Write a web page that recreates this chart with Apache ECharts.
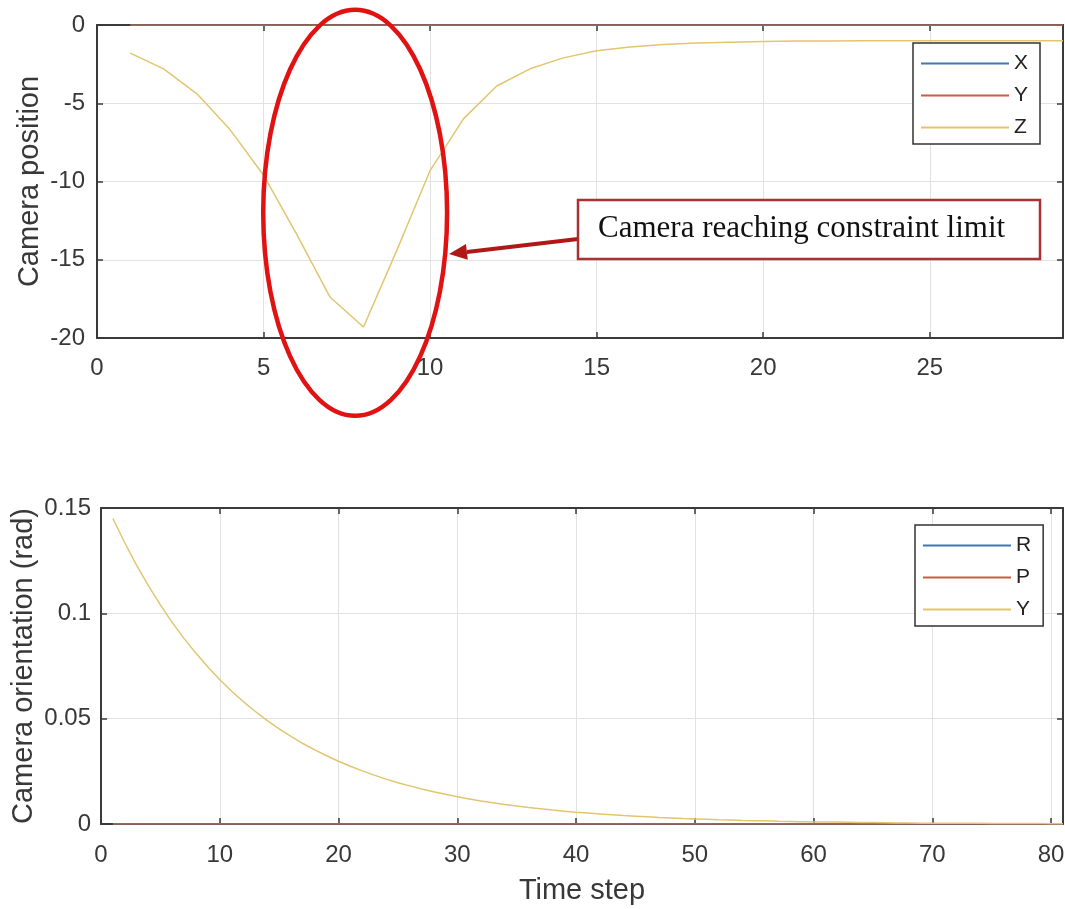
<!DOCTYPE html>
<html>
<head>
<meta charset="utf-8">
<script src="https://cdn.jsdelivr.net/npm/echarts@6/dist/echarts.min.js"></script>
<style>
  html, body { margin: 0; padding: 0; background: #fff; }
  #main { width: 1065px; height: 909px; }
</style>
</head>
<body>
<div id="main"></div>
<script>
// time steps of the position plot and its three series
var stepsTop = [1, 2, 3, 4, 5, 6, 7, 8, 9, 10, 11, 12, 13, 14, 15, 16, 17, 18, 19, 20,
  21, 22, 23, 24, 25, 26, 27, 28, 29];
var posX = [0, 0, 0, 0, 0, 0, 0, 0, 0, 0, 0, 0, 0, 0, 0, 0, 0, 0, 0, 0, 0, 0, 0, 0, 0, 0, 0, 0, 0];
var posY = [0, 0, 0, 0, 0, 0, 0, 0, 0, 0, 0, 0, 0, 0, 0, 0, 0, 0, 0, 0, 0, 0, 0, 0, 0, 0, 0, 0, 0];
var posZ = [-1.8, -2.8, -4.4, -6.7, -9.6, -13.4, -17.4, -19.3, -14.4, -9.3, -6.0, -3.9, -2.8, -2.1,
  -1.65, -1.4, -1.25, -1.15, -1.1, -1.05, -1.03, -1.02, -1.0, -1.0, -1.0, -1.0, -1.0, -1.0, -1.0];

// time steps of the orientation plot and its three series
var stepsBottom = [1, 2, 3, 4, 5, 6, 7, 8, 9, 10, 11, 12, 13, 14, 15, 16, 17, 18, 19, 20,
  21, 22, 23, 24, 25, 26, 27, 28, 29, 30, 31, 32, 33, 34, 35, 36, 37, 38, 39, 40,
  41, 42, 43, 44, 45, 46, 47, 48, 49, 50, 51, 52, 53, 54, 55, 56, 57, 58, 59, 60,
  61, 62, 63, 64, 65, 66, 67, 68, 69, 70, 71, 72, 73, 74, 75, 76, 77, 78, 79, 80, 81];
var oriR = [0, 0, 0, 0, 0, 0, 0, 0, 0, 0, 0, 0, 0, 0, 0, 0, 0, 0, 0, 0,
  0, 0, 0, 0, 0, 0, 0, 0, 0, 0, 0, 0, 0, 0, 0, 0, 0, 0, 0, 0,
  0, 0, 0, 0, 0, 0, 0, 0, 0, 0, 0, 0, 0, 0, 0, 0, 0, 0, 0, 0,
  0, 0, 0, 0, 0, 0, 0, 0, 0, 0, 0, 0, 0, 0, 0, 0, 0, 0, 0, 0, 0];
var oriP = [0, 0, 0, 0, 0, 0, 0, 0, 0, 0, 0, 0, 0, 0, 0, 0, 0, 0, 0, 0,
  0, 0, 0, 0, 0, 0, 0, 0, 0, 0, 0, 0, 0, 0, 0, 0, 0, 0, 0, 0,
  0, 0, 0, 0, 0, 0, 0, 0, 0, 0, 0, 0, 0, 0, 0, 0, 0, 0, 0, 0,
  0, 0, 0, 0, 0, 0, 0, 0, 0, 0, 0, 0, 0, 0, 0, 0, 0, 0, 0, 0, 0];
var oriYaw = [0.145, 0.1335, 0.1228, 0.113, 0.104, 0.0956, 0.088, 0.081, 0.0745, 0.0685,
  0.063, 0.058, 0.0534, 0.0491, 0.0452, 0.0416, 0.0382, 0.0352, 0.0324, 0.0298,
  0.0274, 0.0252, 0.0232, 0.0213, 0.0196, 0.0181, 0.0166, 0.0153, 0.0141, 0.0129,
  0.0119, 0.0109, 0.0101, 0.0093, 0.0085, 0.0078, 0.0072, 0.0066, 0.0061, 0.0056,
  0.0052, 0.0048, 0.0044, 0.0040, 0.0037, 0.0034, 0.0031, 0.0029, 0.0026, 0.0024,
  0.0022, 0.0020, 0.0019, 0.0017, 0.0016, 0.0015, 0.0013, 0.0012, 0.0011, 0.0010,
  0.0009, 0.0009, 0.0008, 0.0007, 0.0007, 0.0006, 0.0005, 0.0005, 0.0004, 0.0004,
  0.0004, 0.0003, 0.0003, 0.0003, 0.0002, 0.0002, 0.0002, 0.0002, 0.0002, 0.0001, 0.0001];

var FONT = "'Liberation Sans', Arial, sans-serif";
var AXIS = '#3a3a3a';
var C1 = '#3d7ab5', C2 = '#c8603a', C3 = '#e3c56f';

function pairs(xs, ys) {
  return xs.map(function (x, i) { return [x, ys[i]]; });
}

// one axis of a boxed matlab-style frame
function axis(grid, pos, min, max, step, main, extra) {
  var a = {
    type: 'value', gridIndex: grid, position: pos,
    min: min, max: max, interval: step,
    axisLine: { show: true, onZero: false, lineStyle: { color: AXIS, width: 2 } },
    axisTick: { show: true, inside: true, length: 6, lineStyle: { color: AXIS, width: 1.5 } },
    axisLabel: { show: main, color: '#383838', fontSize: 24, fontFamily: FONT, showMaxLabel: true },
    splitLine: { show: main, lineStyle: { color: '#e2e2e2', width: 1 } }
  };
  for (var k in extra) a[k] = extra[k];
  return a;
}

function legend(names, left, top, fmt) {
  return {
    data: names, orient: 'vertical', left: left, top: top,
    icon: 'rect', itemWidth: 88, itemHeight: 2, itemGap: 11,
    padding: [10, 12, 6, 8], borderColor: '#333', borderWidth: 1.5,
    backgroundColor: '#fff', selectedMode: false,
    formatter: fmt,
    textStyle: { fontSize: 21, color: '#222', fontFamily: FONT, lineHeight: 20 }
  };
}

var nameStyle = { fontSize: 29, color: '#383838', fontFamily: FONT };

var chart = echarts.init(document.getElementById('main'));

var xTop = axis(0, 'bottom', 0, 29, 5, true);
xTop.axisLabel.showMaxLabel = false;
xTop.axisLabel.margin = 18;
var xBottom = axis(1, 'bottom', 0, 81, 10, true, {
  name: 'Time step', nameLocation: 'middle', nameGap: 52, nameTextStyle: nameStyle
});
xBottom.axisLabel.showMaxLabel = false;
xBottom.axisLabel.margin = 19;

var yTop = axis(0, 'left', -20, 0, 5, true, {
  name: 'Camera position', nameLocation: 'middle', nameGap: 53,
  nameMoveOverlap: false, nameTextStyle: nameStyle
});
yTop.axisLabel.margin = 12;
var yBottom = axis(1, 'left', 0, 0.15, 0.05, true, {
  name: 'Camera orientation (rad)', nameLocation: 'middle', nameGap: 63,
  nameMoveOverlap: false, nameTextStyle: nameStyle
});
yBottom.axisLabel.margin = 10;

chart.setOption({
  animation: false,
  backgroundColor: '#fff',
  grid: [
    { left: 97, top: 25, width: 966, height: 313, outerBoundsMode: 'none' },
    { left: 101, top: 508, width: 962, height: 316, outerBoundsMode: 'none' }
  ],
  xAxis: [
    xTop,
    axis(0, 'top', 0, 29, 5, false),
    xBottom,
    axis(1, 'top', 0, 81, 10, false)
  ],
  yAxis: [
    yTop,
    axis(0, 'right', -20, 0, 5, false),
    yBottom,
    axis(1, 'right', 0, 0.15, 0.05, false)
  ],
  legend: [
    legend(['X', 'Y', 'Z'], 913, 43),
    legend(['R', 'P', 'Yaw'], 915, 525, function (n) { return n === 'Yaw' ? 'Y' : n; })
  ],
  series: [
    { name: 'X', type: 'line', xAxisIndex: 0, yAxisIndex: 0, data: pairs(stepsTop, posX),
      showSymbol: false, color: C1, lineStyle: { width: 1.5 } },
    { name: 'Y', type: 'line', xAxisIndex: 0, yAxisIndex: 0, data: pairs(stepsTop, posY),
      showSymbol: false, color: C2, lineStyle: { width: 1.5 } },
    { name: 'Z', type: 'line', xAxisIndex: 0, yAxisIndex: 0, data: pairs(stepsTop, posZ),
      showSymbol: false, color: C3, lineStyle: { width: 1.5 } },
    { name: 'R', type: 'line', xAxisIndex: 2, yAxisIndex: 2, data: pairs(stepsBottom, oriR),
      showSymbol: false, color: C1, lineStyle: { width: 1.5 } },
    { name: 'P', type: 'line', xAxisIndex: 2, yAxisIndex: 2, data: pairs(stepsBottom, oriP),
      showSymbol: false, color: C2, lineStyle: { width: 1.5 } },
    { name: 'Yaw', type: 'line', xAxisIndex: 2, yAxisIndex: 2, data: pairs(stepsBottom, oriYaw),
      showSymbol: false, color: C3, lineStyle: { width: 1.5 } }
  ]
});

// annotation: red ellipse round the dip, callout box and arrow
var c = chart.convertToPixel({ gridIndex: 0 }, [7.75, -12]);
var e = chart.convertToPixel({ gridIndex: 0 }, [10.51, -24.97]);
var tip = [449, 254], tail = [578, 239];
var dx = tip[0] - tail[0], dy = tip[1] - tail[1];
var len = Math.sqrt(dx * dx + dy * dy);
var ux = dx / len, uy = dy / len;
var bx = tip[0] - ux * 18, by = tip[1] - uy * 18;

chart.setOption({
  graphic: [
    { type: 'ellipse', z: 100, shape: { cx: c[0], cy: c[1], rx: e[0] - c[0], ry: e[1] - c[1] },
      style: { fill: 'none', stroke: '#e01212', lineWidth: 4.5 } },
    { type: 'line', z: 100, shape: { x1: tail[0], y1: tail[1], x2: bx, y2: by },
      style: { stroke: '#b01818', lineWidth: 4 } },
    { type: 'polygon', z: 100,
      shape: { points: [tip, [bx - uy * 8, by + ux * 8], [bx + uy * 8, by - ux * 8]] },
      style: { fill: '#b01818' } },
    { type: 'rect', z: 100, shape: { x: 578, y: 200, width: 462, height: 59 },
      style: { fill: '#fff', stroke: '#a83232', lineWidth: 2.5 } },
    { type: 'text', z: 101, x: 598, y: 229,
      style: { text: 'Camera reaching constraint limit', fill: '#111', fontSize: 31,
        fontFamily: "'Liberation Serif', 'Times New Roman', serif", verticalAlign: 'middle' } }
  ]
});
</script>
</body>
</html>
